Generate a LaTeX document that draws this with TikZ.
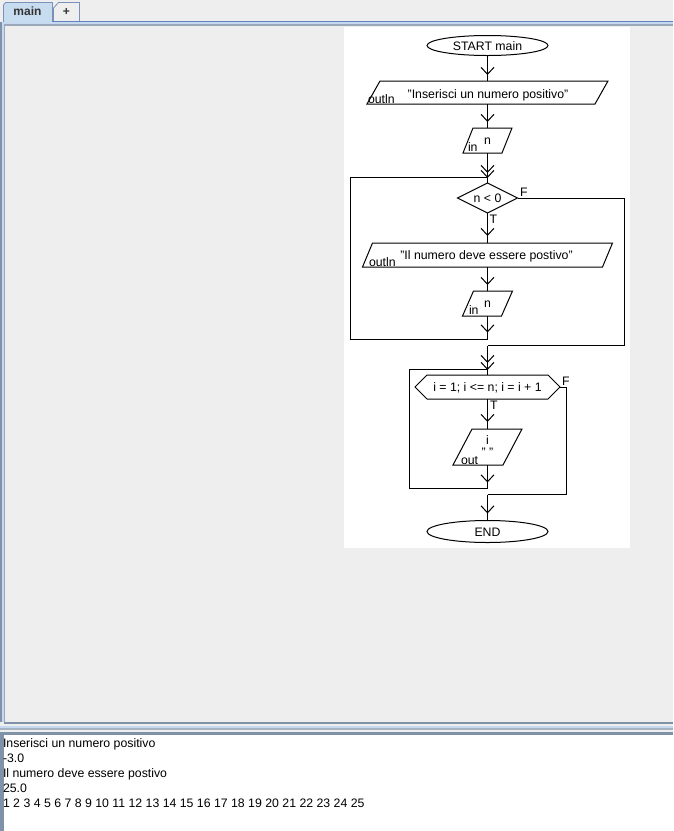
\documentclass[tikz,border=0pt]{standalone}
\usepackage{fontspec}
\setmainfont{Liberation Sans}
\usetikzlibrary{arrows.meta,decorations.markings,shapes.geometric,calc}
\definecolor{bggray}{HTML}{EEEEEE}
\definecolor{tabblue}{HTML}{C8DCF0}
\definecolor{tabline}{HTML}{7A92BA}
\definecolor{blueline}{HTML}{6382BF}
\definecolor{lightblue}{HTML}{C6D9EE}
\definecolor{grayblue}{HTML}{8092A8}
\definecolor{tabtext}{HTML}{333333}
\tikzset{
  every node/.style={font=\fontsize{12.3pt}{14pt}\selectfont, inner sep=0pt, outer sep=0pt},
  flow/.style={draw=black, line width=1pt},
  shapeline/.style={draw=black, line width=1pt, line join=miter},
  box/.style 2 args={draw=none, rectangle, minimum width=#1, minimum height=#2, text height=9pt, text depth=0pt},
  term/.style 2 args={draw=black, line width=1pt, ellipse, minimum width=#1, minimum height=#2, text height=9pt, text depth=0pt},
  tipat/.style={postaction={decorate}, decoration={markings, mark=at position -#1 with {\arrow{Straight Barb[length=7pt,width=13pt,line width=1pt]}}}},
  lbl/.style={anchor=base west},
  ctext/.style={anchor=base},
}
\newcommand\pgramdraw[2]{\draw[shapeline] ($(#1.south west)+(-#2,0)$) -- ($(#1.north west)+(#2,0)$) -- ($(#1.north east)+(#2,0)$) -- ($(#1.south east)+(-#2,0)$) -- cycle;}
\begin{document}
\begin{tikzpicture}[x=1pt,y=-1pt]
\useasboundingbox (0,0) rectangle (673,831);
% window background
\fill[bggray] (0,0) rectangle (673,735);
% tabs
\filldraw[fill=tabblue, draw=tabline, line width=0.8pt] (3.5,22) -- (3.5,5) -- (5.5,2.5) -- (52.5,2.5) -- (52.5,22);
\filldraw[fill=bggray, draw=tabline, line width=0.8pt] (53.5,21.5) -- (53.5,8) -- (58.5,2.5) -- (79.5,2.5) -- (79.5,21.5);
\node[font=\fontsize{12pt}{14pt}\selectfont\bfseries, text=tabtext, anchor=base] (tabmain) at (27.5,15.5) {main};
\node[font=\fontsize{12pt}{14pt}\selectfont\bfseries, text=tabtext, anchor=base] (tabplus) at (66.5,15) {+};
% top border lines
\fill[blueline] (52,21) rectangle (673,22);
\fill[lightblue] (3,22) rectangle (673,24);
\fill[grayblue!80] (3,24) rectangle (673,26);
% left border
\fill[grayblue] (0,22) rectangle (2,722);
\fill[lightblue] (2,22) rectangle (4,722);
\fill[grayblue!80] (4,24) rectangle (5,722);
% white panel
\fill[white] (344,27) rectangle (630,548);
% bottom separator
\fill[grayblue] (4,722) rectangle (673,723.5);
\fill[lightblue] (0,725.5) rectangle (673,728);
\fill[grayblue!70] (0,728) rectangle (673,729.5);
\fill[grayblue] (0,731.5) rectangle (673,735);
% console
\fill[white] (4,735) rectangle (673,831);
\fill[grayblue] (0,735) rectangle (4,831);
\node[lbl] (con1) at (3,747) {Inserisci un numero positivo};
\node[lbl] (con2) at (3,762) {-3.0};
\node[lbl] (con3) at (3,777) {Il numero deve essere postivo};
\node[lbl] (con4) at (3,792) {25.0};
\node[lbl] (con5) at (3,807) {1 2 3 4 5 6 7 8 9 10 11 12 13 14 15 16 17 18 19 20 21 22 23 24 25};

% ---------- flowchart ----------
\node[term={121pt}{20pt}] (start) at (487.5,45.5) {START main};

\node[box={228pt}{23pt}] (p1) at (487.5,92.5) {};
\pgramdraw{p1}{6.5}
\node[ctext] (p1t) at (488,98.5) {"Inserisci un numero positivo"};
\node[lbl] (p1k) at (368,103.5) {outln};

\node[box={39pt}{25pt}] (p2) at (487.5,140.5) {};
\pgramdraw{p2}{5}
\node[ctext] (p2t) at (487.5,144.5) {n};
\node[lbl] (p2k) at (468,151.5) {in};

\node[box={60pt}{30pt}] (d) at (487.5,198) {n < 0};
\draw[shapeline] (d.north) -- (d.east) -- (d.south) -- (d.west) -- cycle;
\node[lbl] (dF) at (520,196) {F};
\node[lbl] (dT) at (489.5,223) {T};

\node[box={240pt}{24pt}] (p3) at (487.5,255) {};
\pgramdraw{p3}{5}
\node[ctext] (p3t) at (486.5,259.5) {"Il numero deve essere postivo"};
\node[lbl] (p3k) at (369,266) {outln};

\node[box={39pt}{25pt}] (p4) at (487.5,303.5) {};
\pgramdraw{p4}{5.5}
\node[ctext] (p4t) at (487.5,307.5) {n};
\node[lbl] (p4k) at (469,314) {in};

\node[box={145pt}{24pt}] (h) at (487.5,387) {i = 1; i <= n; i = i + 1};
\draw[shapeline] (h.west) -- ($(h.north west)+(12,0)$) -- ($(h.north east)+(-12,0)$) -- (h.east) -- ($(h.south east)+(-12,0)$) -- ($(h.south west)+(12,0)$) -- cycle;
\node[lbl] (hF) at (562,385) {F};
\node[lbl] (hT) at (490,409) {T};

\node[box={50pt}{36pt}] (o) at (487.5,447) {};
\pgramdraw{o}{9.5}
\node[ctext] (ot1) at (487.5,444) {i};
\node[ctext] (ot2) at (487.5,456.5) {" "};
\node[lbl] (ok) at (461,464) {out};

\node[term={121pt}{22pt}] (end) at (487.5,531.5) {END};

% coordinates
\coordinate (c1) at (487.5,339.5);
\coordinate (c2) at (350.5,339.5);
\coordinate (c3) at (350.5,177.5);
\coordinate (j1) at (487.5,177.5);
\coordinate (e1) at (624.5,198);
\coordinate (e2) at (624.5,345.5);
\coordinate (j3) at (487.5,345.5);
\coordinate (c4) at (487.5,488.5);
\coordinate (c5) at (409.5,488.5);
\coordinate (c6) at (409.5,369.5);
\coordinate (j2) at (487.5,369.5);
\coordinate (f1) at (566.5,387);
\coordinate (f2) at (566.5,494.5);
\coordinate (j4) at (487.5,494.5);

% connectors
\draw[flow,tipat=6pt] (start.south) -- (p1.north);
\draw[flow,tipat=6pt] (p1.south) -- (p2.north);
\draw[flow,tipat=10pt] (p2.south) -- (d.north);
\draw[flow,tipat=7pt] (d.south) -- (p3.north);
\draw[flow,tipat=6pt] (p3.south) -- (p4.north);
\draw[flow,tipat=7pt] (p4.south) -- (c1);
\draw[flow] (c1) -- (c2) -- (c3) -- (j1);
\draw[flow,tipat=5pt] (j1) -- (d.north);
\draw[flow] (d.east) -- (e1) -- (e2) -- (j3);
\draw[flow,tipat=12pt] (j3) -- (h.north);
\draw[flow,tipat=7pt] (h.south) -- (o.north);
\draw[flow,tipat=6pt] (o.south) -- (c4);
\draw[flow] (c4) -- (c5) -- (c6) -- (j2);
\draw[flow,tipat=5pt] (j2) -- (h.north);
\draw[flow] (h.east) -- (f1) -- (f2) -- (j4);
\draw[flow,tipat=7pt] (j4) -- (end.north);
\end{tikzpicture}
\end{document}
